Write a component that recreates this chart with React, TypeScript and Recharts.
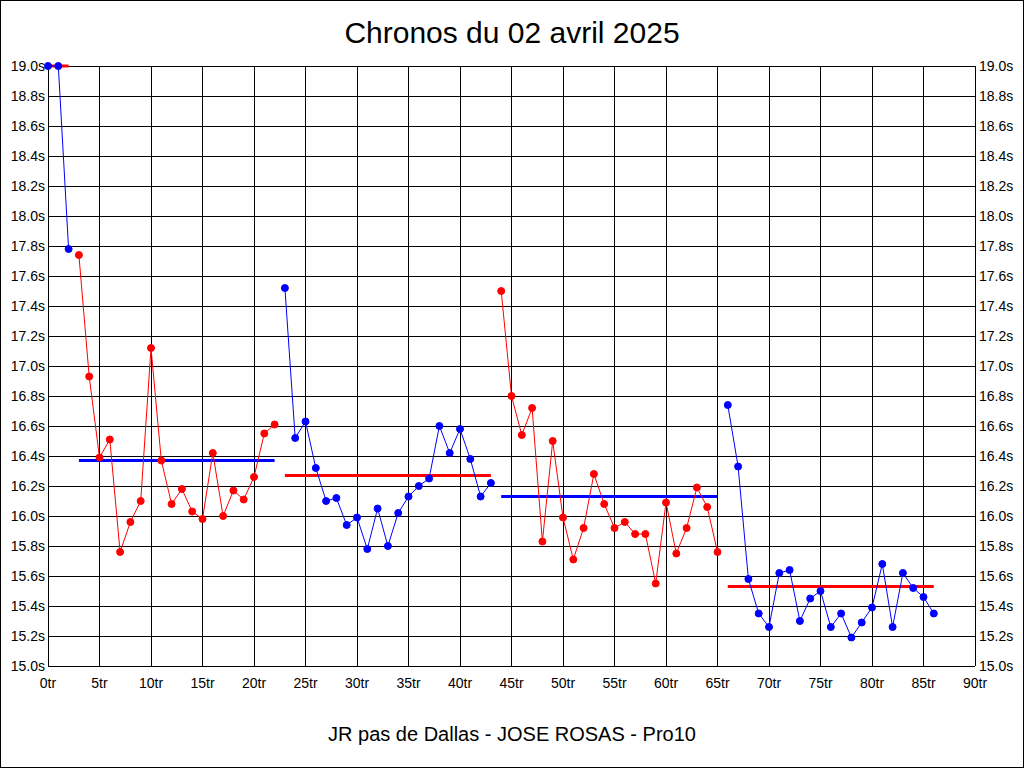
import React from 'react'
import { LineChart, Line, XAxis, YAxis, CartesianGrid } from 'recharts'

// chronos par tour, un tableau par série
const serie1 = [19.0, 19.0, 17.78]
const serie2 = [
  17.74, 16.93, 16.39, 16.51, 15.76, 15.96, 16.10, 17.12, 16.37, 16.08,
  16.18, 16.03, 15.98, 16.42, 16.00, 16.17, 16.11, 16.26, 16.55, 16.61,
]
const serie3 = [
  17.52, 16.52, 16.63, 16.32, 16.10, 16.12, 15.94, 15.99, 15.78, 16.05,
  15.80, 16.02, 16.13, 16.20, 16.25, 16.60, 16.42, 16.58, 16.38, 16.13, 16.22,
]
const serie4 = [
  17.50, 16.80, 16.54, 16.72, 15.83, 16.50, 15.99, 15.71, 15.92, 16.28, 16.08,
  15.92, 15.96, 15.88, 15.88, 15.55, 16.09, 15.75, 15.92, 16.19, 16.06, 15.76,
]
const serie5 = [
  16.74, 16.33, 15.58, 15.35, 15.26, 15.62, 15.64, 15.30, 15.45, 15.50, 15.26,
  15.35, 15.19, 15.29, 15.39, 15.68, 15.26, 15.62, 15.52, 15.46, 15.35,
]
const debuts = [0, 3, 23, 44, 66]
const moyennes = [19.0, 16.37, 16.27, 16.13, 15.53]

const xTicks = [0, 5, 10, 15, 20, 25, 30, 35, 40, 45, 50, 55, 60, 65, 70, 75, 80, 85, 90]
const yTicks = [15.0, 15.2, 15.4, 15.6, 15.8, 16.0, 16.2, 16.4, 16.6, 16.8, 17.0,
  17.2, 17.4, 17.6, 17.8, 18.0, 18.2, 18.4, 18.6, 18.8, 19.0]

const BLEU = '#0000ff'
const ROUGE = '#ff0000'
const FONT = '"Liberation Sans", Arial, sans-serif'

const series = [serie1, serie2, serie3, serie4, serie5]
const couleurs = [BLEU, ROUGE, BLEU, ROUGE, BLEU]

const lastTr = debuts[4] + serie5.length - 1
const data: Record<string, number>[] = []
for (let tr = 0; tr <= lastTr; tr++) {
  const row: Record<string, number> = { tr }
  series.forEach((s, i) => {
    const k = tr - debuts[i]
    if (k >= 0 && k < s.length) {
      row['s' + i] = s[k]
      row['m' + i] = moyennes[i]
    }
  })
  data.push(row)
}

export default function App() {
  const tick = { fontSize: 14, fill: '#000', fontFamily: FONT }
  return (
    <div style={{ position: 'absolute', left: 0, top: 0, width: 1024, height: 768, background: '#fff', fontFamily: FONT }}>
      <LineChart width={1024} height={768} data={data} margin={{ top: 66, right: 0, bottom: 72, left: 0 }}>
        <CartesianGrid stroke="#000" strokeWidth={1} shapeRendering="crispEdges" />
        <XAxis
          dataKey="tr" type="number" domain={[0, 90]} ticks={xTicks} interval={0}
          tickFormatter={v => `${v}tr`} tick={tick} tickSize={0} tickMargin={12}
          axisLine={{ stroke: '#000', shapeRendering: 'crispEdges' }} height={30}
        />
        <YAxis
          type="number" domain={[15, 19]} ticks={yTicks} interval={0}
          tickFormatter={v => `${v.toFixed(1)}s`} tick={tick} tickSize={0} tickMargin={3}
          axisLine={{ stroke: '#000', shapeRendering: 'crispEdges' }} width={48}
        />
        <YAxis
          yAxisId="droite" orientation="right"
          type="number" domain={[15, 19]} ticks={yTicks} interval={0}
          tickFormatter={v => `${v.toFixed(1)}s`} tick={tick} tickSize={0} tickMargin={4}
          axisLine={{ stroke: '#000', shapeRendering: 'crispEdges' }} width={49}
        />
        {moyennes.map((_, i) => (
          <Line
            key={'m' + i} yAxisId={i === 0 ? 'droite' : 0} dataKey={'m' + i}
            stroke={couleurs[i] === BLEU ? ROUGE : BLEU} strokeWidth={3}
            dot={false} activeDot={false} isAnimationActive={false} type="linear"
          />
        ))}
        {series.map((_, i) => (
          <Line
            key={'s' + i} dataKey={'s' + i} stroke={couleurs[i]} strokeWidth={1}
            dot={{ r: 3.5, fill: couleurs[i], stroke: couleurs[i], strokeWidth: 1 }}
            activeDot={false} isAnimationActive={false} type="linear"
          />
        ))}
      </LineChart>
      <div style={{ position: 'absolute', left: 0, top: 18, width: 1024, textAlign: 'center', fontSize: 30, lineHeight: '30px', color: '#000' }}>
        Chronos du 02 avril 2025
      </div>
      <div style={{ position: 'absolute', left: 0, top: 724, width: 1024, textAlign: 'center', fontSize: 20, lineHeight: '20px', color: '#000' }}>
        JR pas de Dallas - JOSE ROSAS - Pro10
      </div>
      <div style={{ position: 'absolute', left: 0, top: 0, width: 1024, height: 768, boxSizing: 'border-box', border: '1px solid #000', pointerEvents: 'none' }} />
    </div>
  )
}
